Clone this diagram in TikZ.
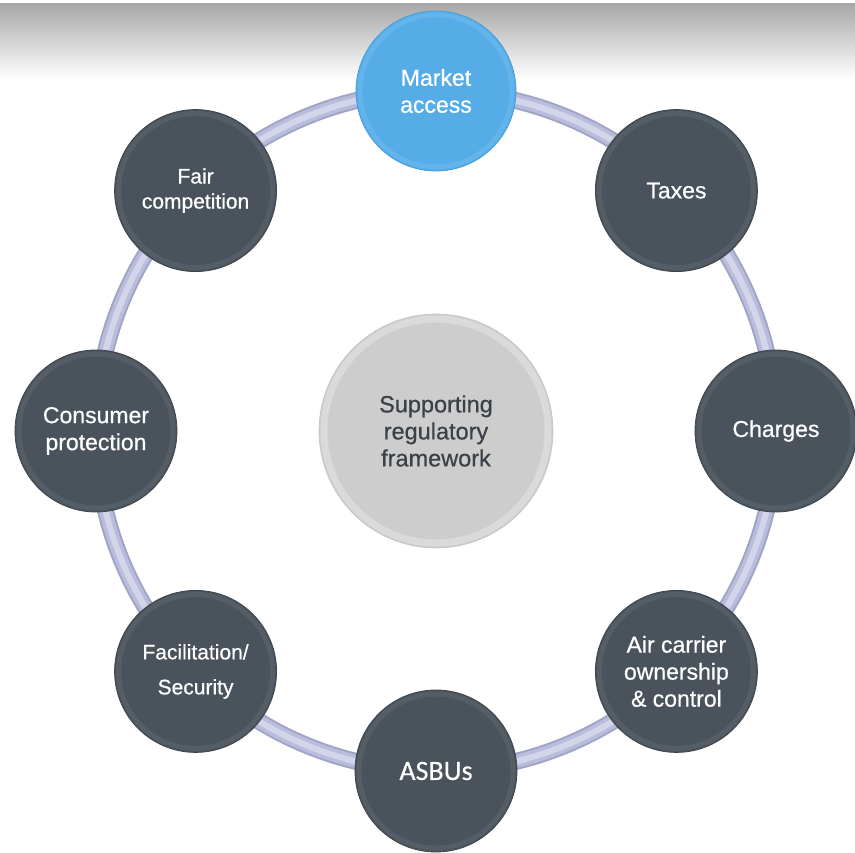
\documentclass[tikz,border=0pt]{standalone}
\usepackage{fontspec}
\setmainfont[FakeBold=0.6]{Liberation Sans}
\newfontfamily\calfont[FakeBold=0.4]{Carlito}
\usetikzlibrary{backgrounds}

\definecolor{slate}{HTML}{4A535C}
\definecolor{slaterim}{HTML}{555E67}
\definecolor{slateedge}{HTML}{3E454C}
\definecolor{sky}{HTML}{55ACE6}
\definecolor{skyrim}{HTML}{62B4EB}
\definecolor{skyedge}{HTML}{4A9FD8}
\definecolor{hubfill}{HTML}{CDCDCD}
\definecolor{hubrim}{HTML}{DADADA}
\definecolor{hubedge}{HTML}{C4C4C4}
\definecolor{hubtext}{HTML}{3B4147}
\definecolor{ringedge}{HTML}{A0A4C6}
\definecolor{ringbody}{HTML}{B9BCDB}
\definecolor{ringhi}{HTML}{D3D5EA}
\definecolor{bandgray}{HTML}{A8A8A8}

\begin{document}
\begin{tikzpicture}[
		x=1pt, y=1pt,
		topic/.style={circle, minimum size=162pt, inner sep=0pt, align=center,
			fill=slate, draw=slateedge, line width=0.8pt, text=white,
			font=\fontsize{23}{27}\selectfont,
			path picture={\draw[slaterim, line width=5pt] (path picture bounding box.center) circle (77pt);}},
		chosen/.style={topic, minimum size=160pt, fill=sky, draw=skyedge,
			path picture={\draw[skyrim, line width=5pt] (path picture bounding box.center) circle (76pt);}},
		hubstyle/.style={circle, minimum size=234pt, inner sep=0pt, align=center,
			fill=hubfill, draw=hubedge, line width=0.6pt, text=hubtext,
			font=\fontsize{23.5}{27}\selectfont,
			path picture={\draw[hubrim, line width=7pt] (path picture bounding box.center) circle (112pt);}},
		tube/.style={draw=ringedge, line width=17pt, bend left=22.5, looseness=0.885,
			postaction={draw=ringbody, line width=13pt},
			postaction={draw=ringhi, line width=6pt}},
	]
		\useasboundingbox (-436,-422) rectangle (419,431);

		% topics
		\node[hubstyle] (hub) at (0, 0) {Supporting\\regulatory\\framework};
		\node[chosen] (mkt) at (90:340) {Market\\access};
		\node[topic] (tax) at (45:340) {Taxes};
		\node[topic] (chg) at (0:340) {Charges};
		\node[topic] (own) at (-45:340) {Air carrier\\ownership\\\& control};
		\node[topic, font=\calfont\fontsize{28}{32}\selectfont] (asbu) at (-90:340) {ASBUs};
		\node[topic, font=\fontsize{21}{35}\selectfont] (fac) at (-135:340) {Facilitation/\\Security};
		\node[topic] (cons) at (180:340) {Consumer\\protection};
		\node[topic, font=\fontsize{21}{25}\selectfont] (fair) at (135:340) {Fair\\competition};

		% band and ring
		\begin{scope}[on background layer]
			\shade[top color=bandgray, bottom color=white] (-436,427) rectangle (419,352);
			\path (mkt.center) edge[tube] (tax.center);
			\path (tax.center) edge[tube] (chg.center);
			\path (chg.center) edge[tube] (own.center);
			\path (own.center) edge[tube] (asbu.center);
			\path (asbu.center) edge[tube] (fac.center);
			\path (fac.center) edge[tube] (cons.center);
			\path (cons.center) edge[tube] (fair.center);
			\path (fair.center) edge[tube] (mkt.center);
		\end{scope}
	\end{tikzpicture}
\end{document}
